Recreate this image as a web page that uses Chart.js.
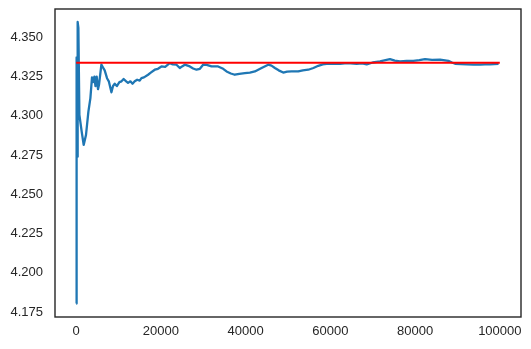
<!DOCTYPE html>
<html>
<head>
<meta charset="utf-8">
<script src="https://cdn.jsdelivr.net/npm/chart.js@4/dist/chart.umd.min.js"></script>
<style>
html,body{margin:0;padding:0;background:#fff;}
#wrap{width:531px;height:349px;}
</style>
</head>
<body>
<div id="wrap"><canvas id="c" width="531" height="349"></canvas></div>
<script>
// Running mean samples
const sampleX = [0,60,140,220,300,400,520,756,1300,1770,2316,2883,3355,3733,3970,4300,4550,4844,5150,5400,5950,6300,6730,7280,7700,8320,8700,9100,9600,10200,10700,11200,11800,12240,12800,13300,13820,14400,15000,15400,16000,16970,17600,18550,19300,20130,21000,22090,22800,23680,24460,25000,25640,26820,27600,28400,29200,29960,30800,31950,33500,34700,35490,36500,37450,38500,39820,41000,42180,43760,45330,46100,46910,47800,48870,49800,50850,52420,53500,54780,56000,57140,58200,59120,60500,62270,64000,66210,67500,68580,70000,71720,73000,74080,75200,76440,78000,79590,81000,82350,84000,85900,87860,88700,89440,90800,92200,93800,95360,96500,97700,99700];
const runningMean = [4.1804,4.3372,4.2715,4.3365,4.2740,4.3598,4.3560,4.3006,4.2900,4.2815,4.2878,4.3027,4.3113,4.3245,4.3215,4.3250,4.3190,4.3250,4.3170,4.3200,4.3326,4.3310,4.3290,4.3240,4.3220,4.3150,4.3190,4.3205,4.3190,4.3215,4.3220,4.3235,4.3220,4.3210,4.3220,4.3205,4.3220,4.3230,4.3225,4.3240,4.3245,4.3262,4.3275,4.3294,4.3300,4.3315,4.3312,4.3336,4.3328,4.3326,4.3305,4.3315,4.3326,4.3315,4.3302,4.3294,4.3300,4.3326,4.3325,4.3315,4.3315,4.3300,4.3283,4.3270,4.3262,4.3268,4.3272,4.3276,4.3283,4.3305,4.3326,4.3320,4.3305,4.3290,4.3276,4.3282,4.3283,4.3283,4.3290,4.3294,4.3305,4.3319,4.3328,4.3332,4.3333,4.3332,4.3336,4.3332,4.3335,4.3328,4.3340,4.3347,4.3355,4.3362,4.3352,4.3347,4.3350,4.3351,4.3355,4.3362,4.3357,4.3358,4.3351,4.3340,4.3332,4.3330,4.3328,4.3326,4.3326,4.3328,4.3328,4.3332];
// Reference (expected) value line
const refX = [0, 99999];
const refY = [4.3338, 4.3338];
// Tick labels
const xTicks = [0, 20000, 40000, 60000, 80000, 100000];
const yTicks = [4.175, 4.200, 4.225, 4.250, 4.275, 4.300, 4.325, 4.350];

const txt = '#262626';
const font = {family: '"Liberation Sans", Arial, sans-serif', size: 13};

const spines = {
  id: 'spines',
  beforeDatasetsDraw(chart) {
    const a = chart.chartArea, ctx = chart.ctx;
    ctx.save();
    ctx.strokeStyle = txt;
    ctx.lineWidth = 1.4;
    ctx.strokeRect(a.left, a.top, a.right - a.left, a.bottom - a.top);
    ctx.restore();
  }
};

new Chart(document.getElementById('c'), {
  type: 'line',
  data: {
    datasets: [
      {
        data: refX.map((x, i) => ({x, y: refY[i]})),
        borderColor: '#ff0000', borderWidth: 2, pointRadius: 0, order: 0
      },
      {
        data: sampleX.map((x, i) => ({x, y: runningMean[i]})),
        borderColor: '#1f77b4', borderWidth: 2.3, pointRadius: 0, tension: 0, order: 1,
        borderJoinStyle: 'round'
      }
    ]
  },
  options: {
    responsive: false,
    animation: false,
    layout: {padding: {top: 9, right: 10, left: 0, bottom: 0}},
    plugins: {legend: {display: false}, tooltip: {enabled: false}},
    scales: {
      x: {
        type: 'linear', min: -5000, max: 105000,
        grid: {display: false, drawTicks: false},
        border: {display: false},
        afterBuildTicks: s => { s.ticks = xTicks.map(v => ({value: v})); },
        afterFit: s => { s.height = 32; s.paddingLeft = 0; s.paddingRight = 0; },
        ticks: {color: txt, font, padding: 7, maxRotation: 0, autoSkip: false, callback: v => String(v)}
      },
      y: {
        type: 'linear', min: 4.1718, max: 4.3681,
        grid: {display: false, drawTicks: false},
        border: {display: false},
        afterBuildTicks: s => { s.ticks = yTicks.map(v => ({value: v})); },
        afterFit: s => { s.width = 55; s.paddingTop = 0; s.paddingBottom = 0; },
        ticks: {color: txt, font, padding: 12, autoSkip: false, callback: v => Number(v).toFixed(3)}
      }
    }
  },
  plugins: [spines]
});
</script>
</body>
</html>
